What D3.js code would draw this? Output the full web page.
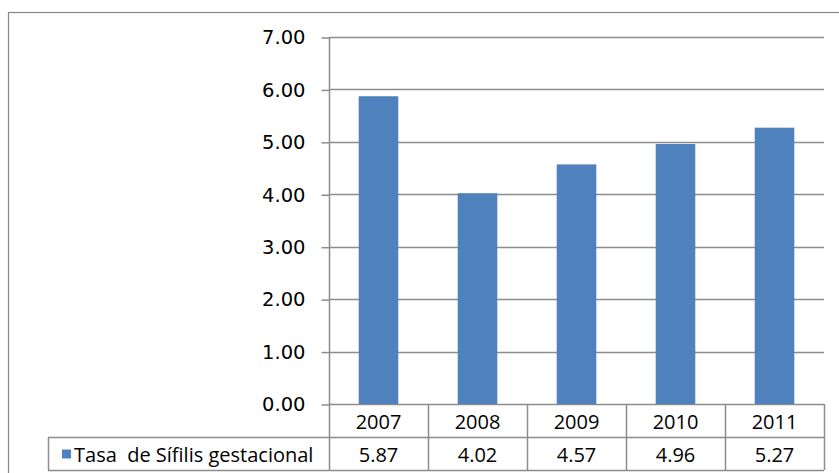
<!DOCTYPE html>
<html><head><meta charset="utf-8">
<script src="https://cdn.jsdelivr.net/npm/d3@7"></script>
<style>body{margin:0;background:#fff}svg{display:block}</style>
</head><body>
<svg id="c" width="839" height="473"></svg>
<script>
const categories = ["2007","2008","2009","2010","2011"];
const values = [5.87, 4.02, 4.57, 4.96, 5.27];
const seriesName = "Tasa  de Sífilis gestacional";
const yTicks = [0,1,2,3,4,5,6,7];

(function(){
const svg = d3.select("#c");
const grid = "#8c8c8c";
const pL = 329, pR = 824, pT = 37, pB = 404;
const rowH = 33;
const legendLeft = 48;

// outer frame
svg.append("rect").attr("x",8.5).attr("y",12.5).attr("width",840).attr("height",470)
  .attr("fill","none").attr("stroke","#868686").attr("stroke-width",1.2);

const x = d3.scaleBand().domain(categories).range([pL,pR]).paddingInner(0.6).paddingOuter(0.3);
const xb = d3.scaleBand().domain(categories).range([pL,pR]);
const y = d3.scaleLinear().domain([0,7]).range([pB,pT]);

// gridlines
svg.append("g").selectAll("line").data(yTicks).join("line")
  .attr("x1",pL).attr("x2",pR).attr("y1",d=>Math.round(y(d))+0.5).attr("y2",d=>Math.round(y(d))+0.5)
  .attr("stroke",grid).attr("stroke-width",1.5);

// y axis
const yAxis = d3.axisLeft(y).tickValues(yTicks).tickFormat(d3.format(".2f")).tickSize(8).tickPadding(16);
const ga = svg.append("g").attr("transform",`translate(${pL+0.5},0.5)`).call(yAxis);
ga.select(".domain").remove();
ga.selectAll(".tick line").attr("stroke",grid).attr("stroke-width",1.5);
ga.selectAll(".tick text").attr("fill","#000").style("font-family","'DejaVu Sans'").style("font-size","19.5px");

// bars
svg.append("g").selectAll("rect").data(values).join("rect")
  .attr("x",(d,i)=>x(categories[i])).attr("width",x.bandwidth())
  .attr("y",d=>y(d)).attr("height",d=>pB-y(d)).attr("fill","#4F81BD");

// axis vertical line
svg.append("line").attr("x1",pL+0.5).attr("x2",pL+0.5).attr("y1",pT).attr("y2",pB+2*rowH)
  .attr("stroke",grid).attr("stroke-width",1.5);

// table lines
const tl = svg.append("g").attr("stroke",grid).attr("stroke-width",1.5);
tl.append("line").attr("x1",pL).attr("x2",pR).attr("y1",pB+rowH+0.5).attr("y2",pB+rowH+0.5);
tl.append("line").attr("x1",legendLeft).attr("x2",pL).attr("y1",pB+rowH+0.5).attr("y2",pB+rowH+0.5);
tl.append("line").attr("x1",legendLeft).attr("x2",pR).attr("y1",pB+2*rowH+0.5).attr("y2",pB+2*rowH+0.5);
tl.append("line").attr("x1",legendLeft+0.5).attr("x2",legendLeft+0.5).attr("y1",pB+rowH).attr("y2",pB+2*rowH);
tl.selectAll(".v").data(categories).join("line")
  .attr("x1",d=>Math.round(xb(d)+xb.bandwidth())+0.5).attr("x2",d=>Math.round(xb(d)+xb.bandwidth())+0.5)
  .attr("y1",pB).attr("y2",pB+2*rowH);

const tf = "'Open Sans'", ts = "20px";
svg.append("g").selectAll("text").data(categories).join("text")
  .attr("x",d=>xb(d)+xb.bandwidth()/2).attr("y",pB+rowH/2+1).attr("text-anchor","middle")
  .attr("dominant-baseline","central").style("font-family",tf).style("font-size",ts).text(d=>d);
svg.append("g").selectAll("text").data(values).join("text")
  .attr("x",(d,i)=>xb(categories[i])+xb.bandwidth()/2).attr("y",pB+rowH*1.5+1).attr("text-anchor","middle")
  .attr("dominant-baseline","central").style("font-family",tf).style("font-size",ts).text(d=>d3.format(".2f")(d));

// legend
svg.append("rect").attr("x",62).attr("y",pB+rowH*1.5-4).attr("width",9).attr("height",9).attr("fill","#4F81BD");
svg.append("text").attr("x",74).attr("y",pB+rowH*1.5+1).attr("dominant-baseline","central")
  .style("font-family",tf).style("font-size",ts).style("white-space","pre").text(seriesName);
})();
</script>
</body></html>
